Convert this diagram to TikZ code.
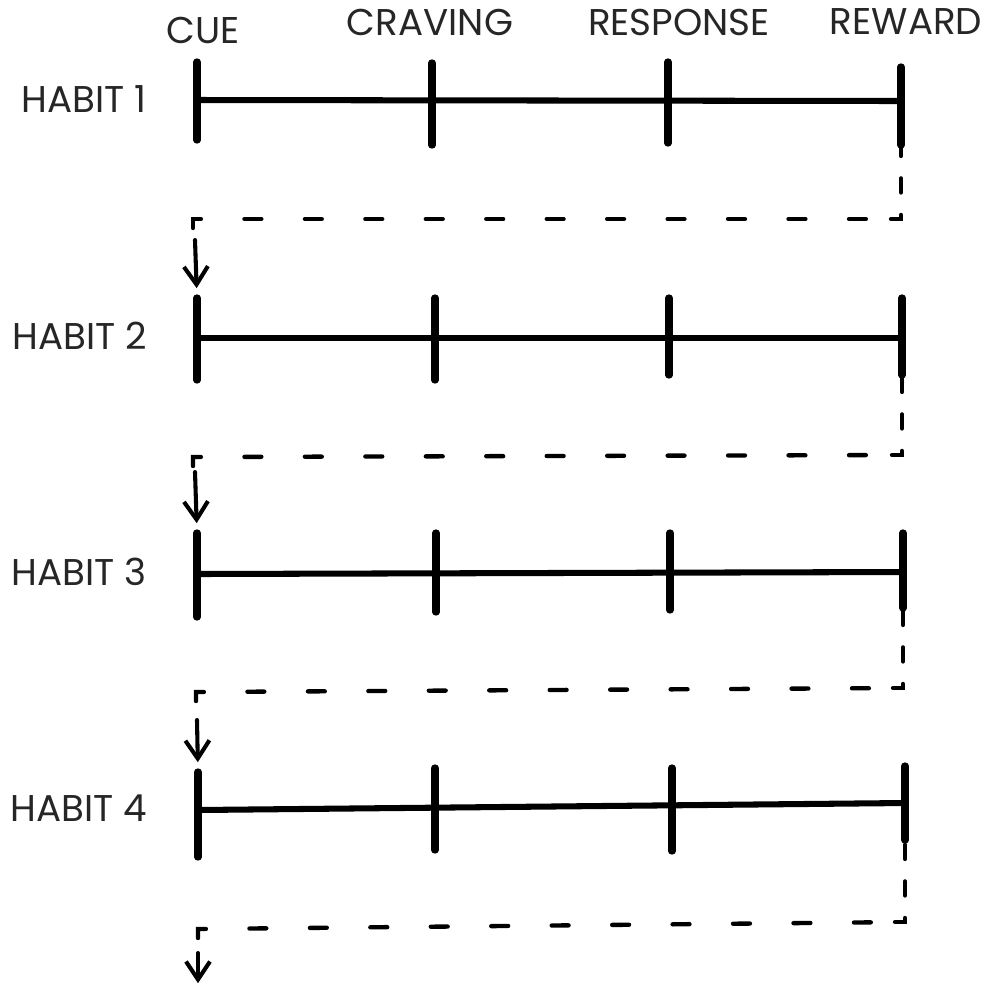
\documentclass[tikz,border=0pt]{standalone}
\usepackage{fontspec}
\setmainfont{Poppins}
\usetikzlibrary{positioning,
        arrows.meta}
\usepackage{xcolor}

\tikzset{
        lbl/.style={font=\fontsize{26.5}{26.5}\selectfont, inner sep=0pt, text=black!85},
        bar/.style={line width=4.3pt, line cap=round},
        tick/.style={line width=5.2pt, line cap=round},
        back/.style={line width=3.1pt, line cap=round, dash pattern=on 12pt off 31pt},
        vback/.style={line width=3.1pt, line cap=round, dash pattern=on 10pt off 16pt},
        drop/.style={line width=2.9pt, line cap=round, -{Straight Barb[length=4.5mm, width=6mm]}, shorten >=7pt}
}

\begin{document}
\begin{tikzpicture}[x=0.25mm, y=-0.25mm]
        \useasboundingbox (0,0) rectangle (987,986);

        % column heads
        \node [lbl] (cue) at (203,30) {CUE};
        \node [lbl] (crav) at (430,22) {CRAVING};
        \node [lbl] (resp) at (679,22) {RESPONSE};
        \node [lbl] (rewd) at (906,22) {REWARD};

        % habit 1
        \node [lbl, anchor=east] (hab1) at (147,99) {HABIT 1};
        \coordinate (cue1) at (197,100);
        \coordinate (rew1) at (901,101);
        \draw [bar] (cue1) -- (rew1);
        \draw [tick] (197,62) -- (197,140);
        \draw [tick] (432,63) -- (432,145);
        \draw [tick] (668,62) -- (668,143);
        \draw [tick] (901,67) -- (901,145);
        \coordinate (rew1b) at (901,145);

        % habit 1 -> habit 2
        \coordinate (rcor1) at (901,219);
        \coordinate (turn1) at (193,219);
        \coordinate (in2) at (195,240);
        \coordinate (cue2t) at (197,298);
        \draw [vback] (rcor1) ++(-10,0) -- (rcor1) -- (rew1b);
        \draw [back] (turn1) ++(0,9) -- (turn1) -- (rcor1);
        \draw [drop] (in2) -- (cue2t);

        % habit 2
        \node [lbl, anchor=east] (hab2) at (147,336) {HABIT 2};
        \coordinate (cue2) at (197,338);
        \coordinate (rew2) at (902,338);
        \draw [bar] (cue2) -- (rew2);
        \draw [tick] (cue2t) -- (197,380);
        \draw [tick] (435,298) -- (435,380);
        \draw [tick] (669,298) -- (669,375);
        \draw [tick] (902,298) -- (902,375);
        \coordinate (rew2b) at (902,375);

        % habit 2 -> habit 3
        \coordinate (rcor2) at (902,455);
        \coordinate (turn2) at (193,457);
        \coordinate (in3) at (195,472);
        \coordinate (cue3t) at (197,533);
        \draw [vback] (rcor2) ++(-10,0) -- (rcor2) -- (rew2b);
        \draw [back] (turn2) ++(0,9) -- (turn2) -- (rcor2);
        \draw [drop] (in3) -- (cue3t);

        % habit 3
        \node [lbl, anchor=east] (hab3) at (147,572) {HABIT 3};
        \coordinate (cue3) at (197,574);
        \coordinate (rew3) at (903,572);
        \draw [bar] (cue3) -- (rew3);
        \draw [tick] (cue3t) -- (197,617);
        \draw [tick] (436,533) -- (436,612);
        \draw [tick] (670,533) -- (670,610);
        \draw [tick] (903,533) -- (903,608);
        \coordinate (rew3b) at (903,608);

        % habit 3 -> habit 4
        \coordinate (rcor3) at (903,688);
        \coordinate (turn3) at (196,692);
        \coordinate (in4) at (197,720);
        \coordinate (cue4t) at (198,772);
        \draw [vback] (rcor3) ++(-10,0) -- (rcor3) -- (rew3b);
        \draw [back] (turn3) ++(0,9) -- (turn3) -- (rcor3);
        \draw [drop] (in4) -- (cue4t);

        % habit 4
        \node [lbl, anchor=east] (hab4) at (147,808) {HABIT 4};
        \coordinate (cue4) at (198,810);
        \coordinate (rew4) at (905,803);
        \draw [bar] (cue4) -- (rew4);
        \draw [tick] (cue4t) -- (198,857);
        \draw [tick] (435,768) -- (435,850);
        \draw [tick] (672,768) -- (672,851);
        \draw [tick] (905,766) -- (905,840);
        \coordinate (rew4b) at (905,840);

        % habit 4 -> next
        \coordinate (rcor4) at (905,922);
        \coordinate (turn4) at (198,929);
        \coordinate (in5) at (198,953);
        \coordinate (out) at (198,993);
        \draw [vback] (rcor4) ++(-10,0) -- (rcor4) -- (rew4b);
        \draw [back] (turn4) ++(0,9) -- (turn4) -- (rcor4);
        \draw [drop] (in5) -- (out);
\end{tikzpicture}
\end{document}
